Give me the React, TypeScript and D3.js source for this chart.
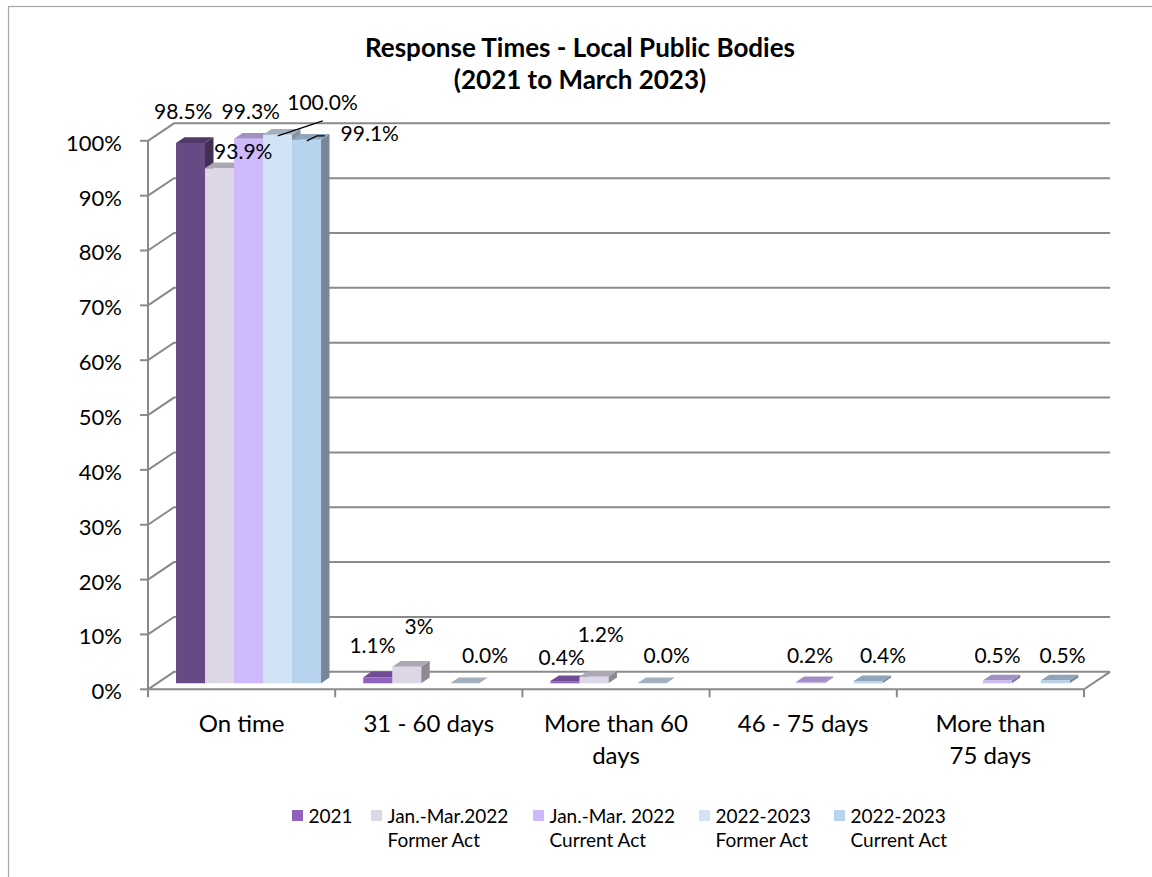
import React from "react";
import * as d3 from "d3";

// ---- data ----
const categories = ["On time", "31 - 60 days", "More than 60 days", "46 - 75 days", "More than 75 days"];
const categoryLines = [["On time"], ["31 - 60 days"], ["More than 60", "days"], ["46 - 75 days"], ["More than", "75 days"]];

const seriesNames = [
  "2021",
  "Jan.-Mar.2022 Former Act",
  "Jan.-Mar. 2022 Current Act",
  "2022-2023 Former Act",
  "2022-2023 Current Act",
];
const legendLines = [
  ["2021"],
  ["Jan.-Mar.2022", "Former Act"],
  ["Jan.-Mar. 2022", "Current Act"],
  ["2022-2023", "Former Act"],
  ["2022-2023", "Current Act"],
];

const values2021: (number | null)[] = [98.5, 1.1, 0.4, null, null];
const valuesJanMar2022Former: (number | null)[] = [93.9, 3, 1.2, null, null];
const valuesJanMar2022Current: (number | null)[] = [99.3, null, null, 0.2, 0.5];
const values2022to2023Former: (number | null)[] = [100.0, 0.0, 0.0, null, null];
const values2022to2023Current: (number | null)[] = [99.1, null, null, 0.4, 0.5];
const seriesValues = [values2021, valuesJanMar2022Former, valuesJanMar2022Current, values2022to2023Former, values2022to2023Current];

const yTicks = [0, 10, 20, 30, 40, 50, 60, 70, 80, 90, 100];

// ---- styles ----
const seriesColors = ["#8e62bd", "#ddd6e6", "#cdb9fb", "#d1e3f5", "#b8d3ee"];
// the "On time" 2021 column uses a deeper purple
const pointColorOverrides: Record<string, string> = { "0-0": "#654a85" };
// labels shown as whole percentages
const wholePercentLabels = new Set(["1-1"]);

// label placement relative to the top centre of each column, [dx, dy]
const labelNudges: Record<string, [number, number]> = {
  "0-0": [-11.5, -29],
  "0-1": [19.5, -13.7],
  "0-2": [-2, -24.7],
  "0-3": [40.7, -29.4],
  "0-4": [59, -3],
  "1-0": [-9.5, -28.7],
  "1-1": [8, -37.2],
  "1-3": [16, -24.6],
  "2-0": [-7.5, -20.7],
  "2-1": [2.6, -39.8],
  "2-3": [10.5, -24.6],
  "3-2": [-4.4, -23.5],
  "3-4": [10.6, -22.4],
  "4-2": [-4.1, -21.9],
  "4-4": [2.9, -21.9],
};
// leader lines, relative to the same top centre point
const leaderLines: Record<string, [number, number][]> = {
  "0-3": [[41, -11], [-4, 4]],
  "0-4": [[14, -1], [6, -1], [-4, 4]],
};

const W = 1152;
const H = 877;
const FRONT_LEFT = 148;
const FRONT_RIGHT = 1084;
const FLOOR_Y = 689.3;
const TOP_Y = 140.8;
const DEPTH_X = 26;
const DEPTH_Y = 17.5;
const BAR_Z0 = 0.343;
const BAR_Z1 = 0.67;
const GROUP_INSET = 19.1;
const BAR_W = 29;
const GRID = "#8a8a8a";
const FONT = "Lato, 'Open Sans', sans-serif";

const proj = (x: number, y: number, z: number): [number, number] => [x + z * DEPTH_X, y - z * DEPTH_Y];
const poly = (pts: [number, number][]) => (d3.line()(pts) as string) + "Z";
const shade = (c: string, k: number) => {
  const r = d3.rgb(c);
  return d3.rgb(r.r * k, r.g * k, r.b * k).formatHex();
};

export default function App() {
  const x = d3.scaleBand<string>().domain(categories).range([FRONT_LEFT, FRONT_RIGHT]);
  const xs = d3
    .scaleBand<string>()
    .domain(seriesNames)
    .range([GROUP_INSET, GROUP_INSET + BAR_W * seriesNames.length]);
  const y = d3.scaleLinear().domain([0, 100]).range([FLOOR_Y, TOP_Y]);

  const bars: React.ReactNode[] = [];
  const labels: React.ReactNode[] = [];

  categories.forEach((cat, i) => {
    seriesNames.forEach((s, j) => {
      const v = seriesValues[j][i];
      if (v === null || v === undefined) return;
      const key = `${i}-${j}`;
      const color = pointColorOverrides[key] ?? seriesColors[j];
      const x0 = (x(cat) as number) + (xs(s) as number);
      const x1 = x0 + xs.bandwidth();
      const yT = y(v);
      const yB = y(0);
      const side = poly([proj(x1, yT, BAR_Z0), proj(x1, yT, BAR_Z1), proj(x1, yB, BAR_Z1), proj(x1, yB, BAR_Z0)]);
      const top = poly([proj(x0, yT, BAR_Z0), proj(x1, yT, BAR_Z0), proj(x1, yT, BAR_Z1), proj(x0, yT, BAR_Z1)]);
      const front = poly([proj(x0, yT, BAR_Z0), proj(x1, yT, BAR_Z0), proj(x1, yB, BAR_Z0), proj(x0, yB, BAR_Z0)]);
      bars.push(
        <g key={key}>
          <path d={side} fill={shade(color, 0.64)} />
          <path d={top} fill={shade(color, 0.78)} />
          <path d={front} fill={color} />
        </g>
      );

      const [ax, ay] = proj((x0 + x1) / 2, yT, (BAR_Z0 + BAR_Z1) / 2);
      const [nx, ny] = labelNudges[key] ?? [0, -22];
      const text = wholePercentLabels.has(key) ? `${d3.format(".0f")(v)}%` : `${d3.format(".1f")(v)}%`;
      const leader = leaderLines[key];
      labels.push(
        <g key={"l" + key}>
          {leader && (
            <path
              d={d3.line()(leader.map(([px, py]) => [ax + px, ay + py] as [number, number])) as string}
              fill="none"
              stroke="#000"
              strokeWidth={1.2}
            />
          )}
          <text x={ax + nx} y={ay + ny} dy="0.36em" textAnchor="middle" fontSize={21} fill="#000">
            {text}
          </text>
        </g>
      );
    });
  });

  const backRight = FRONT_RIGHT + DEPTH_X;
  const legendX = [292, 371, 533, 699, 834];

  return (
    <div style={{ position: "absolute", left: 0, top: 0 }}>
      <svg width={W} height={H} style={{ display: "block", fontFamily: FONT }}>
        <rect x={0} y={0} width={W} height={H} fill="#fff" />
        <rect x={8.5} y={6.5} width={W + 50} height={H + 50} fill="#fff" stroke="#a6a6a6" strokeWidth={1.2} />

        {/* title */}
        <text x={580} y={57} textAnchor="middle" fontSize={26} fontWeight="bold" fill="#000">
          Response Times - Local Public Bodies
        </text>
        <text x={580} y={89} textAnchor="middle" fontSize={26} fontWeight="bold" fill="#000">
          (2021 to March 2023)
        </text>

        {/* gridlines on the back and side walls */}
        {yTicks.map((t) => {
          const yf = y(t);
          const [bx, by] = proj(FRONT_LEFT, yf, 1);
          return (
            <path
              key={"g" + t}
              d={`M${FRONT_LEFT},${yf}L${bx},${by}L${backRight},${by}`}
              fill="none"
              stroke={GRID}
              strokeWidth={2}
            />
          );
        })}

        {/* floor */}
        <path
          d={`M${FRONT_LEFT},${y(0)}L${FRONT_RIGHT},${y(0)}L${backRight},${y(0) - DEPTH_Y}`}
          fill="none"
          stroke={GRID}
          strokeWidth={2}
        />

        {/* value axis */}
        <line x1={FRONT_LEFT} x2={FRONT_LEFT} y1={y(100)} y2={y(0) + 8} stroke={GRID} strokeWidth={2} />
        {yTicks.map((t) => (
          <g key={"t" + t}>
            <line x1={FRONT_LEFT - 8} x2={FRONT_LEFT} y1={y(t)} y2={y(t)} stroke={GRID} strokeWidth={2} />
            <text x={122} y={y(t) + 2} dy="0.36em" textAnchor="end" fontSize={22} fill="#000">
              {t}%
            </text>
          </g>
        ))}

        {/* category axis ticks and labels */}
        {categories.map((c, i) => (
          <g key={"c" + c}>
            <line
              x1={(x(c) as number) + x.bandwidth()}
              x2={(x(c) as number) + x.bandwidth()}
              y1={y(0)}
              y2={y(0) + 8}
              stroke={GRID}
              strokeWidth={2}
            />
            {categoryLines[i].map((ln, k) => (
              <text
                key={k}
                x={(x(c) as number) + x.bandwidth() / 2}
                y={723 + k * 32}
                dy="0.36em"
                textAnchor="middle"
                fontSize={24}
                fill="#000"
              >
                {ln}
              </text>
            ))}
          </g>
        ))}

        {bars}
        {labels}

        {/* legend */}
        {seriesNames.map((s, j) => (
          <g key={"lg" + s}>
            <rect x={legendX[j]} y={810} width={11} height={11} fill={seriesColors[j]} />
            {legendLines[j].map((ln, k) => (
              <text key={k} x={legendX[j] + 16.5} y={816 + k * 24} dy="0.36em" fontSize={19} fill="#000">
                {ln}
              </text>
            ))}
          </g>
        ))}
      </svg>
    </div>
  );
}
